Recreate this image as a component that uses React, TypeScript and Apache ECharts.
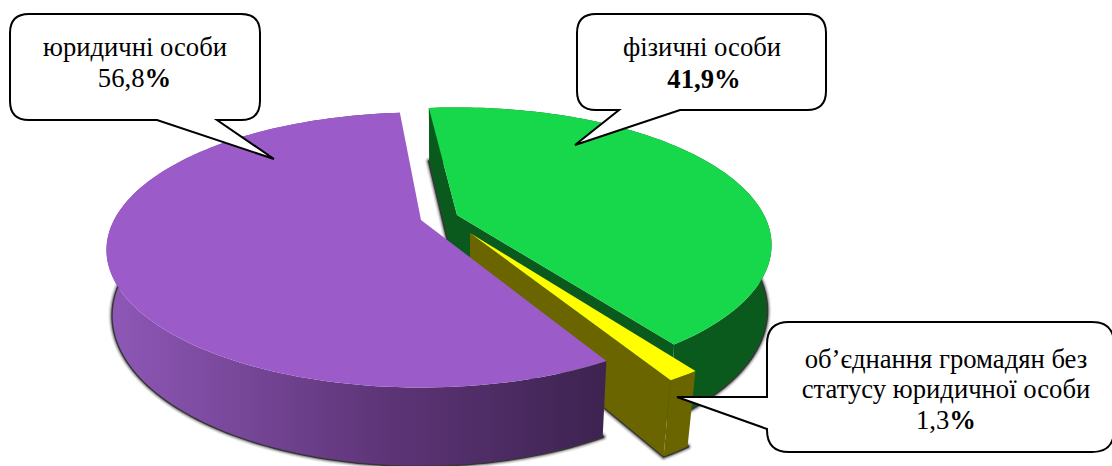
import React, { useEffect, useRef } from "react";
import * as echarts from "echarts";

const sliceNames = ["фізичні особи", "об’єднання громадян без статусу юридичної особи", "юридичні особи"];
const sliceValues = [41.9, 1.3, 56.8];
const calloutLines = [["фізичні особи"], ["об’єднання громадян без", "статусу юридичної особи"], ["юридичні особи"]];
const topColors = ["#17d84a", "#ffff00", "#9b5cc9"];

const W = 1112;
const H = 466;
const FONT = '"Liberation Serif", "Times New Roman", serif';
const FONT_SIZE = 26.67;

// Projection of the tilted disc
const A = 307;
const B = 131;
const P = 0.218;
const KY = 1.09;
const DEPTH = 63;
// x, y of the exploded apex, radial scale, wall taper, rotation
const placement = [
  [457, 215, 1, 0.985, -6.4],
  [470, 233, 1.055, 0.965, -5.7],
  [421, 220, 1, 0.98, -4.8],
];

const total = sliceValues.reduce((s, v) => s + v, 0);
const toDeg = (v: number) => (v / total) * 360;
const starts = sliceValues.map((_, i) => placement[i][4] + toDeg(sliceValues.slice(0, i).reduce((s, v) => s + v, 0)));

function rim(i: number, deg: number) {
  const [ax, ay, s] = placement[i];
  const t = (deg * Math.PI) / 180;
  const u = Math.sin(t);
  const v = -Math.cos(t);
  const d = 1 - P * v;
  return [ax + (s * A * u) / d, ay + (s * B * v) / d];
}
function low(i: number, p: number[]) {
  const [ax, ay, , kx] = placement[i];
  return [ax + (p[0] - ax) * kx, ay + (p[1] - ay) * KY + DEPTH];
}
function arc(i: number, a: number, b: number) {
  const n = Math.max(4, Math.ceil(Math.abs(b - a) / 1.5));
  const out: number[][] = [];
  for (let k = 0; k <= n; k++) out.push(rim(i, a + ((b - a) * k) / n));
  return out;
}

const wallFill = (i: number): any => {
  if (i === 0) return "#0a5a1e";
  if (i === 1) return "#6b6500";
  return new echarts.graphic.LinearGradient(0, 0, 1, 0, [
    { offset: 0, color: "#8f58b8" },
    { offset: 0.55, color: "#5e3578" },
    { offset: 1, color: "#3d2350" },
  ]);
};

function poly(points: number[][], style: any) {
  return { type: "polygon", silent: true, shape: { points }, style };
}

const glow = [
  [9, 0.07],
  [7, 0.12],
  [5, 0.25],
  [3, 0.65],
];

function renderShadow(params: any, api: any) {
  const i = params.dataIndex;
  const a = starts[i];
  const b = a + toDeg(api.value(0));
  const [ax, ay] = placement[i];
  const bottom = [low(i, [ax, ay]), ...arc(i, a, b).map((p) => low(i, p))];
  return {
    type: "group",
    children: glow.map(([lineWidth, opacity]) =>
      poly(bottom, { fill: "none", stroke: "#000", lineWidth, opacity, lineJoin: "round" })
    ),
  };
}

function renderSlice(params: any, api: any) {
  const i = params.dataIndex;
  const a = starts[i];
  const b = a + toDeg(api.value(0));
  const [ax, ay] = placement[i];
  const apex = [ax, ay];
  const top = arc(i, a, b);
  const lowTop = top.map((p) => low(i, p));
  const wall = [...top, ...lowTop.slice().reverse()];
  const first = top[0];
  const last = top[top.length - 1];
  const children: any[] = [];
  if (i === 0) {
    children.push(poly([apex, first, low(i, first), low(i, apex)], { fill: wallFill(i) }));
  }
  if (i < 2) {
    children.push(poly([apex, last, low(i, last), low(i, apex)], { fill: wallFill(i) }));
  }
  children.push(poly(wall, { fill: wallFill(i) }));
  children.push(poly([apex, ...top], { fill: topColors[i] }));
  return { type: "group", children };
}

function bubble(l: number, t: number, r: number, b: number, rad: number, side: string, t1: number[], tip: number[], t2: number[]) {
  let d = `M${l + rad} ${t}L${r - rad} ${t}Q${r} ${t} ${r} ${t + rad}L${r} ${b - rad}Q${r} ${b} ${r - rad} ${b}`;
  if (side === "bottom") d += `L${t2[0]} ${t2[1]}L${tip[0]} ${tip[1]}L${t1[0]} ${t1[1]}`;
  d += `L${l + rad} ${b}Q${l} ${b} ${l} ${b - rad}`;
  if (side === "left") d += `L${t2[0]} ${t2[1]}L${tip[0]} ${tip[1]}L${t1[0]} ${t1[1]}`;
  d += `L${l} ${t + rad}Q${l} ${t} ${l + rad} ${t}Z`;
  return d;
}

echarts.graphic.registerShape("calloutA", echarts.graphic.extendPath(bubble(10, 14, 260, 120, 19, "bottom", [157, 120], [274, 159], [217, 120]), {}) as any);
echarts.graphic.registerShape("calloutB", echarts.graphic.extendPath(bubble(577, 14, 826, 110, 19, "bottom", [619, 110], [575, 145], [680, 110]), {}) as any);
echarts.graphic.registerShape("calloutC", echarts.graphic.extendPath(bubble(767, 322, 1114, 452, 22, "left", [767, 397], [677, 397], [767, 429]), {}) as any);

const pct = (v: number) => v.toFixed(1).replace(".", ",");

function textEl(x: number, y: number, content: string) {
  return {
    type: "text",
    x,
    y,
    z: 11,
    silent: true,
    style: {
      text: content,
      fill: "#000",
      align: "center",
      verticalAlign: "middle",
      font: `${FONT_SIZE}px ${FONT}`,
    },
  };
}

function richValue(x: number, y: number, value: number, allBold: boolean) {
  return {
    type: "text",
    x,
    y,
    z: 11,
    silent: true,
    style: {
      text: allBold ? `{b|${pct(value)}%}` : `{r|${pct(value)}}{b|%}`,
      align: "center",
      verticalAlign: "middle",
      rich: {
        r: { fontFamily: FONT, fontSize: FONT_SIZE, fill: "#000", fontWeight: "normal" },
        b: { fontFamily: FONT, fontSize: FONT_SIZE, fill: "#000", fontWeight: "bold" },
      },
    },
  };
}

const outline = { fill: "#fff", stroke: "#000", lineWidth: 2 };

export default function App() {
  const ref = useRef<HTMLDivElement>(null);
  useEffect(() => {
    document.body.style.margin = "0";
    const chart = echarts.init(ref.current!, undefined, { renderer: "svg", width: W, height: H });
    chart.setOption({
      animation: false,
      backgroundColor: "#fff",
      series: [
        {
          type: "custom",
          coordinateSystem: "none",
          z: 1,
          silent: true,
          renderItem: renderShadow,
          data: sliceValues.map((v, i) => ({ name: sliceNames[i], value: [v] })),
        },
        {
          type: "custom",
          coordinateSystem: "none",
          z: 2,
          silent: true,
          renderItem: renderSlice,
          data: sliceValues.map((v, i) => ({ name: sliceNames[i], value: [v] })),
        },
      ],
      graphic: [
        { type: "calloutA", z: 10, silent: true, style: outline },
        { type: "calloutB", z: 10, silent: true, style: outline },
        { type: "calloutC", z: 10, silent: true, style: outline },
        textEl(135, 47, calloutLines[2][0]),
        richValue(134.5, 78, sliceValues[2], false),
        textEl(702, 47, calloutLines[0][0]),
        richValue(704, 79, sliceValues[0], true),
        textEl(946, 359, calloutLines[1][0]),
        textEl(946, 389, calloutLines[1][1]),
        richValue(946, 420, sliceValues[1], false),
      ],
    });
    return () => chart.dispose();
  }, []);
  return <div ref={ref} style={{ width: W, height: H }} />;
}
